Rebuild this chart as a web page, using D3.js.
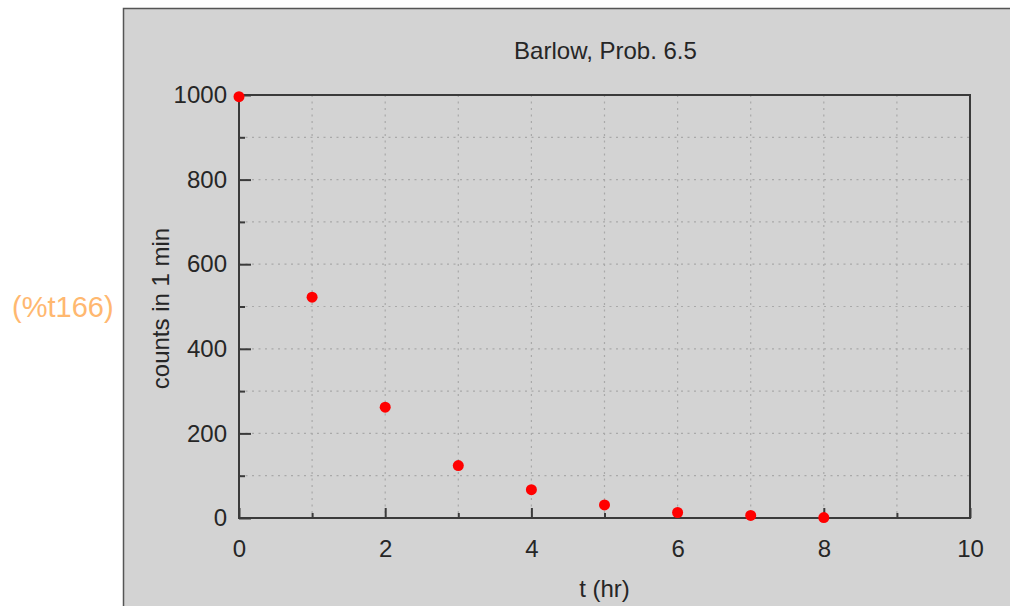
<!DOCTYPE html>
<html>
<head>
<meta charset="utf-8">
<script src="https://cdn.jsdelivr.net/npm/d3@7"></script>
<style>
  body { margin: 0; background: #fff; }
  svg { display: block; }
  .tick text { font-family: "Liberation Sans", Arial, sans-serif; font-size: 24px; fill: #262626; }
</style>
</head>
<body>
<svg id="chart"></svg>
<script>
// data
const tHours = [0, 1, 2, 3, 4, 5, 6, 7, 8];
const counts = [996, 522, 262, 124, 67, 31, 13, 6, 1];
const xMajorTicks = [0, 2, 4, 6, 8, 10];
const xMinorTicks = [1, 3, 5, 7, 9];
const yMajorTicks = [0, 200, 400, 600, 800, 1000];
const yMinorTicks = [100, 300, 500, 700, 900];
const titleText = "Barlow, Prob. 6.5";
const xLabel = "t (hr)";
const yLabel = "counts in 1 min";
const outLabel = "(%t166)";

document.addEventListener('DOMContentLoaded', function() {
  drawChart();
})

function drawChart() {
  const width = 1010, height = 606;
  const plot = { left: 239, right: 970, top: 95, bottom: 518 };

  const svg = d3.select('#chart')
    .attr('width', width)
    .attr('height', height);

  // output label on the left
  svg.append('text')
    .attr('x', 12)
    .attr('y', 317)
    .style('font-family', '"Liberation Sans", Arial, sans-serif')
    .style('font-size', '29px')
    .style('fill', '#ffb870')
    .text(outLabel);

  // gray panel
  svg.append('rect')
    .attr('x', 123).attr('y', 8)
    .attr('width', width - 123).attr('height', height - 8)
    .attr('fill', '#d3d3d3');
  svg.append('path')
    .attr('d', `M123.5,${height} V8.5 H${width}`)
    .attr('fill', 'none')
    .attr('stroke', '#555')
    .attr('stroke-width', 1.5);

  const xScale = d3.scaleLinear().domain([0, 10]).range([plot.left, plot.right]);
  const yScale = d3.scaleLinear().domain([0, 1000]).range([plot.bottom, plot.top]);

  // dotted grid
  const grid = svg.append('g')
    .attr('stroke', '#a9a9a9')
    .attr('stroke-width', 1.2)
    .attr('stroke-dasharray', '2,4.5');
  grid.selectAll('.vgrid')
    .data(xMajorTicks.concat(xMinorTicks).filter(d => d > 0 && d < 10))
    .enter().append('line')
    .attr('x1', d => xScale(d)).attr('x2', d => xScale(d))
    .attr('y1', plot.top).attr('y2', plot.bottom);
  grid.selectAll('.hgrid')
    .data(yMajorTicks.concat(yMinorTicks).filter(d => d > 0 && d < 1000))
    .enter().append('line')
    .attr('x1', plot.left).attr('x2', plot.right)
    .attr('y1', d => yScale(d)).attr('y2', d => yScale(d));

  // axes with inward ticks
  const xAxis = d3.axisBottom(xScale).tickValues(xMajorTicks).tickSize(-10).tickPadding(22).tickFormat(d3.format('d'));
  const xAxisMinor = d3.axisBottom(xScale).tickValues(xMinorTicks).tickSize(-5).tickFormat('');
  const yAxis = d3.axisLeft(yScale).tickValues(yMajorTicks).tickSize(-12).tickPadding(12).tickFormat(d3.format('d'));
  const yAxisMinor = d3.axisLeft(yScale).tickValues(yMinorTicks).tickSize(-6).tickFormat('');

  [[xAxis, 'x'], [xAxisMinor, 'x'], [yAxis, 'y'], [yAxisMinor, 'y']].forEach(([ax, dir]) => {
    const g = svg.append('g')
      .attr('transform', dir === 'x' ? `translate(0, ${plot.bottom})` : `translate(${plot.left}, 0)`)
      .call(ax);
    g.select('.domain').remove();
    g.selectAll('.tick line').attr('stroke', '#3a3a3a').attr('stroke-width', 2);
  });

  // frame
  svg.append('rect')
    .attr('x', plot.left).attr('y', plot.top)
    .attr('width', plot.right - plot.left)
    .attr('height', plot.bottom - plot.top)
    .attr('fill', 'none')
    .attr('stroke', '#3a3a3a')
    .attr('stroke-width', 2);

  // points
  svg.append('g')
    .selectAll('circle')
    .data(tHours.map((t, i) => ({ t: t, c: counts[i] })))
    .enter().append('circle')
    .attr('cx', d => xScale(d.t))
    .attr('cy', d => yScale(d.c))
    .attr('r', 5.5)
    .attr('fill', '#ff0000');

  // title and axis labels
  const labelFont = '"Liberation Sans", Arial, sans-serif';
  svg.append('text')
    .attr('x', (plot.left + plot.right) / 2 + 1)
    .attr('y', 59)
    .attr('text-anchor', 'middle')
    .style('font-family', labelFont)
    .style('font-size', '24px')
    .style('fill', '#262626')
    .text(titleText);

  svg.append('text')
    .attr('x', (plot.left + plot.right) / 2)
    .attr('y', 597)
    .attr('text-anchor', 'middle')
    .style('font-family', labelFont)
    .style('font-size', '24px')
    .style('fill', '#262626')
    .text(xLabel);

  svg.append('text')
    .attr('transform', `translate(169, ${(plot.top + plot.bottom) / 2 + 2}) rotate(-90)`)
    .attr('text-anchor', 'middle')
    .style('font-family', labelFont)
    .style('font-size', '24px')
    .style('fill', '#262626')
    .text(yLabel);
}
</script>
</body>
</html>
